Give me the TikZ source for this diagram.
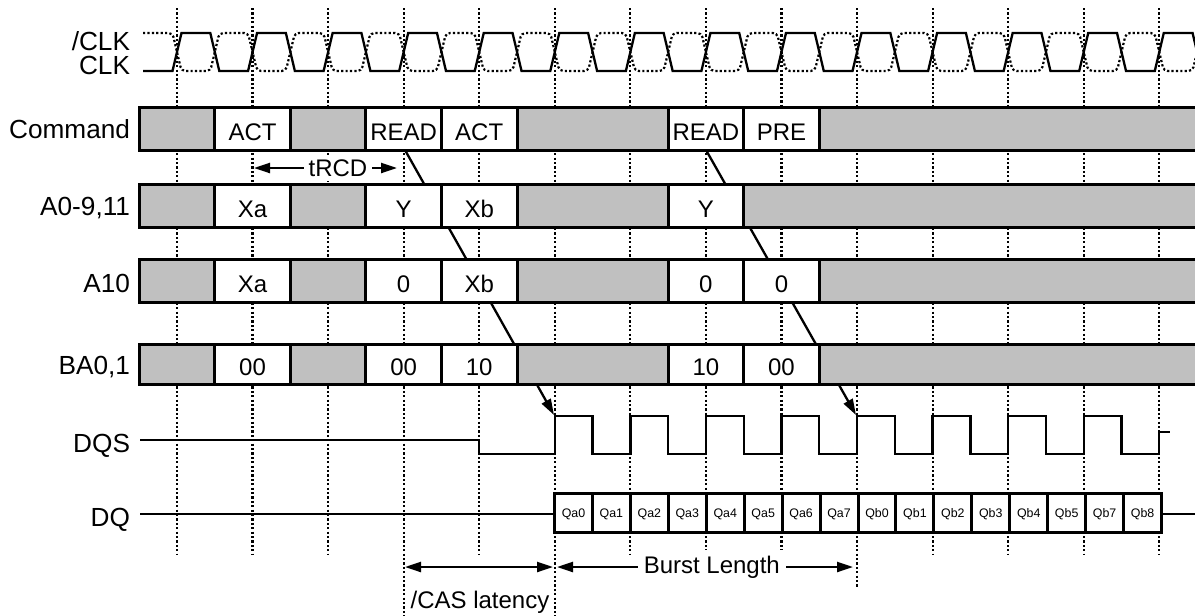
\documentclass[tikz,border=0pt]{standalone}
\usepackage{fontspec}
\setmainfont{Liberation Sans}
\usetikzlibrary{arrows.meta}

\definecolor{busgray}{RGB}{192,192,192}

\begin{document}
\begin{tikzpicture}[x=0.5pt,y=-0.5pt,>={Triangle[length=8pt,width=5pt]},
  line width=1pt]
  \tikzstyle{gridline}=[line width=1.1pt,dash pattern=on 1.1pt off 1.1pt]
  \tikzstyle{sig}=[line width=1.15pt]
  \tikzstyle{bus}=[draw,line width=1.5pt]
  \tikzstyle{lbl}=[anchor=base east,inner sep=0pt,font=\fontsize{13.1}{15}\selectfont]
  \tikzstyle{txt}=[font=\fontsize{12}{14}\selectfont]
  \tikzstyle{cell}=[txt,yshift=-1.8pt]
  \tikzstyle{qcell}=[font=\fontsize{6.2}{7}\selectfont,yshift=-1pt]
  \def\T{75.56}

  \useasboundingbox (0,0) rectangle (1195,616);

  % clock grid
  \foreach \k/\e in {0/554,1/554,2/554,3/616,4/554,5/616,6/554,7/554,
                     8/554,9/587,10/554,11/554,12/554,13/554}
    \draw[gridline] ({177+\k*\T},8) -- ({177+\k*\T},\e);

  % CLK and /CLK
  \draw[sig] (143,71) \foreach \k in {0,...,13}{
    -- ({177+\k*\T-4.5},71) -- ({177+\k*\T+4.5},33)
    -- ({214.8+\k*\T-4.5},33) -- ({214.8+\k*\T+4.5},71)};
  \draw[gridline,rounded corners=2pt] (143,33) \foreach \k in {0,...,13}{
    -- ({177+\k*\T-4.5},33) -- ({177+\k*\T+4.5},71)
    -- ({214.8+\k*\T-4.5},71) -- ({214.8+\k*\T+4.5},33)};

  % DQS and DQ
  \draw[sig] (140,440) -- ({177+4*\T},440) -- ({177+4*\T},454)
    \foreach \k in {5,...,12}{
    -- ({177+\k*\T},454) -- ({177+\k*\T},416)
    -- ({214.8+\k*\T},416) -- ({214.8+\k*\T},454)}
    -- ({177+13*\T},454) -- ({177+13*\T},432) -- (1170,432);
  \draw[sig] (140,514) -- (554.5,514);
  \draw[sig] (1161.5,514) -- (1195,514);

  % READ to first DQS edge
  \coordinate (rd1) at (405,150);
  \coordinate (st1) at (554,415);
  \coordinate (rd2) at (706,150);
  \coordinate (st2) at (856,415);
  \draw[sig,->] (rd1) -- (st1);
  \draw[sig,->] (rd2) -- (st2);

  % timing
  \coordinate (trcdA) at (254,168);
  \coordinate (trcdB) at (397,168);
  \draw[sig,<->] (trcdA) -- (trcdB)
    node[pos=0.587,txt,fill=white,inner sep=2.5pt] (trcd) {tRCD};
  \coordinate (casA) at (405,567);
  \coordinate (casB) at (553,567);
  \draw[sig,<->] (casA) -- (casB);
  \node[txt] (cas) at (480,602) {/CAS latency};
  \coordinate (blA) at (557,567);
  \coordinate (blB) at (853,567);
  \draw[sig,<->] (blA) -- (blB)
    node[pos=0.523,txt,fill=white,inner sep=3pt] (burst) {Burst Length};

  % bus rows
  \foreach \a/\b/\f/\t [count=\i] in {0/1/busgray/,1/2/white/ACT,2/3/busgray/,
      3/4/white/READ,4/5/white/ACT,5/7/busgray/,7/8/white/READ,8/9/white/PRE,
      9/14/busgray/}
    \draw[bus,fill=\f] ({139.2+\a*\T},107) rectangle ({139.2+\b*\T},150)
      node[midway,cell] (cmd\i) {\t};
  \foreach \a/\b/\f/\t [count=\i] in {0/1/busgray/,1/2/white/Xa,2/3/busgray/,
      3/4/white/Y,4/5/white/Xb,5/7/busgray/,7/8/white/Y,8/14/busgray/}
    \draw[bus,fill=\f] ({139.2+\a*\T},184) rectangle ({139.2+\b*\T},227)
      node[midway,cell] (adr\i) {\t};
  \foreach \a/\b/\f/\t [count=\i] in {0/1/busgray/,1/2/white/Xa,2/3/busgray/,
      3/4/white/0,4/5/white/Xb,5/7/busgray/,7/8/white/0,8/9/white/0,
      9/14/busgray/}
    \draw[bus,fill=\f] ({139.2+\a*\T},259) rectangle ({139.2+\b*\T},302)
      node[midway,cell] (aten\i) {\t};
  \foreach \a/\b/\f/\t [count=\i] in {0/1/busgray/,1/2/white/00,2/3/busgray/,
      3/4/white/00,4/5/white/10,5/7/busgray/,7/8/white/10,8/9/white/00,
      9/14/busgray/}
    \draw[bus,fill=\f] ({139.2+\a*\T},344) rectangle ({139.2+\b*\T},384)
      node[midway,cell] (ba\i) {\t};

  % data burst
  \foreach \q [count=\i from 0] in {Qa0,Qa1,Qa2,Qa3,Qa4,Qa5,Qa6,Qa7,
      Qb0,Qb1,Qb2,Qb3,Qb4,Qb5,Qb7,Qb8}
    \draw[bus,fill=white] ({554.5+\i*37.94},493) rectangle ({554.5+(\i+1)*37.94},532)
      node[midway,qcell] (dq\i) {\q};

  % signal names
  \node[lbl] (nclk) at (131,50) {/CLK};
  \node[lbl] (clk) at (131,74) {CLK};
  \node[lbl] (cmd) at (131,138) {Command};
  \node[lbl] (adr) at (131,215) {A0-9,11};
  \node[lbl] (aten) at (131,292) {A10};
  \node[lbl] (ba) at (131,374) {BA0,1};
  \node[lbl] (dqs) at (131,452) {DQS};
  \node[lbl] (dq) at (131,526) {DQ};
\end{tikzpicture}
\end{document}
